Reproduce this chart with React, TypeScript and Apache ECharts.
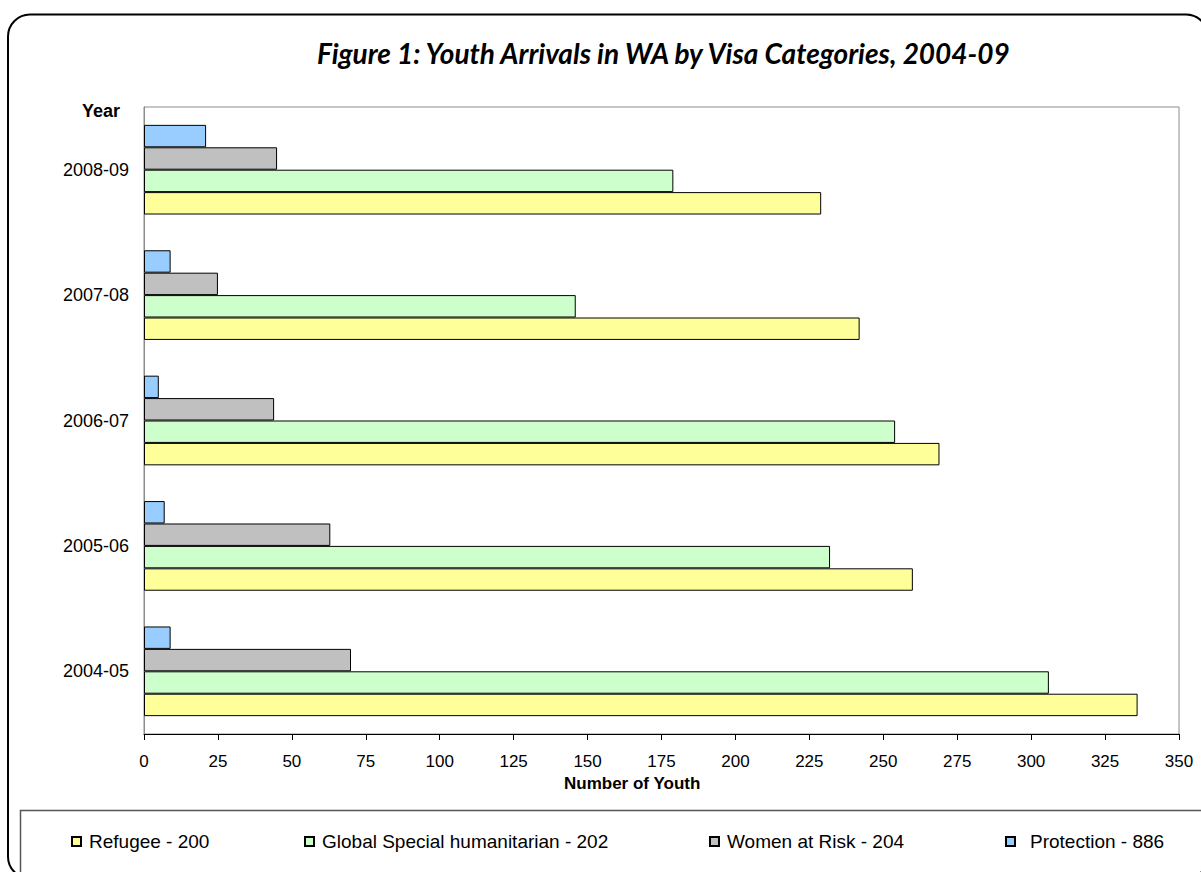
import React, { useEffect, useRef } from "react";
import * as echarts from "echarts";

const years = ["2004-05", "2005-06", "2006-07", "2007-08", "2008-09"];
const refugee = [336, 260, 269, 242, 229];
const globalSpecial = [306, 232, 254, 146, 179];
const womenAtRisk = [70, 63, 44, 25, 45];
const protection = [9, 7, 5, 9, 21];
const seriesNames = [
  "Refugee - 200",
  "Global Special humanitarian - 202",
  "Women at Risk - 204",
  "Protection - 886",
];
const seriesColors = ["#FFFF99", "#CCFFCC", "#C0C0C0", "#99CCFF"];
const xTicks = { min: 0, max: 350, interval: 25 };

export default function App() {
  const ref = useRef<HTMLDivElement>(null);
  useEffect(() => {
    if (!ref.current) return;
    const chart = echarts.init(ref.current, undefined, { renderer: "svg" });
    const values = [refugee, globalSpecial, womenAtRisk, protection];
    const font = "Liberation Sans, Arial, sans-serif";
    const legendLefts = [71, 304, 709, 1005];
    const legendPads = [3, 3, 3, 10];
    // draw order: top bar in each group is the first series
    const order = [3, 2, 1, 0];
    chart.setOption({
      animation: false,
      backgroundColor: "#ffffff",
      title: {
        text: "Figure 1: Youth Arrivals in WA by Visa Categories, 2004-09",
        left: 312,
        top: 34,
        textStyle: {
          fontFamily: "Lato, sans-serif",
          fontStyle: "italic",
          fontWeight: "bold",
          fontSize: 28,
          color: "#000",
        },
      },
      legend: seriesNames.map((n, i) => ({
        left: legendLefts[i],
        top: 832,
        padding: 0,
        itemWidth: 9,
        itemHeight: 9,
        icon: "rect",
        textStyle: {
          fontFamily: font,
          fontSize: 19,
          color: "#000",
          padding: [0, 0, 0, legendPads[i]],
        },
        data: [n],
      })),
      grid: {
        left: 144,
        right: 22,
        top: 107,
        bottom: 138,
        show: true,
        borderColor: "#8c8c8c",
        borderWidth: 1,
        backgroundColor: "transparent",
      },
      xAxis: {
        type: "value",
        min: xTicks.min,
        max: xTicks.max,
        interval: xTicks.interval,
        axisLine: { show: true, lineStyle: { color: "#000", width: 1 } },
        axisTick: { show: true, length: 6, lineStyle: { color: "#000" } },
        axisLabel: { fontFamily: font, fontSize: 17, color: "#000", margin: 19 },
        splitLine: { show: false },
      },
      yAxis: {
        type: "category",
        data: years,
        axisLine: { show: true, lineStyle: { color: "#8c8c8c", width: 1 } },
        axisTick: { show: false },
        axisLabel: { fontFamily: font, fontSize: 18, color: "#000", margin: 15 },
      },
      graphic: [
        {
          type: "rect",
          shape: { x: 8, y: 14.5, width: 1200, height: 864, r: 22 },
          style: { fill: "none", stroke: "#000", lineWidth: 2 },
          silent: true,
          z: -10,
        },
        {
          type: "rect",
          shape: { x: 20.5, y: 810.5, width: 1300, height: 200 },
          style: { fill: "none", stroke: "#555", lineWidth: 1.5 },
          silent: true,
          z: -10,
        },
        {
          type: "text",
          left: 82,
          top: 102,
          style: {
            text: "Year",
            fontFamily: font,
            fontSize: 18,
            fontWeight: "bold",
            fill: "#000",
          },
        },
        {
          type: "text",
          left: 564,
          top: 775,
          style: {
            text: "Number of Youth",
            fontFamily: font,
            fontSize: 17,
            fontWeight: "bold",
            fill: "#000",
          },
        },
      ],
      series: order.map((i) => ({
        name: seriesNames[i],
        type: "bar",
        data: values[i],
        barGap: "0%",
        barCategoryGap: "28.5%",
        itemStyle: { color: seriesColors[i], borderColor: "#000", borderWidth: 1 },
      })),
    });
    return () => chart.dispose();
  }, []);
  return (
    <div
      ref={ref}
      style={{ position: "absolute", left: 0, top: 0, width: 1201, height: 872 }}
    />
  );
}
